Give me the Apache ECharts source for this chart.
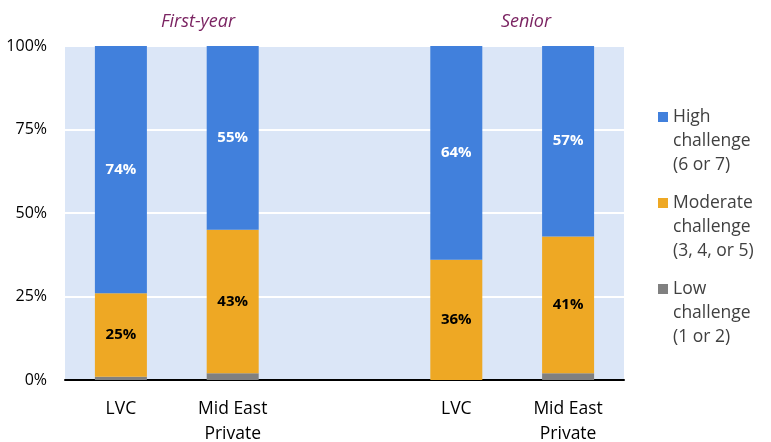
<!DOCTYPE html>
<html>
<head>
<meta charset="utf-8">
<script src="https://cdn.jsdelivr.net/npm/echarts@6/dist/echarts.min.js"></script>
<style>
  html, body { margin: 0; padding: 0; background: #fff; }
  #chart { width: 771px; height: 442px; }
</style>
</head>
<body>
<div id="chart"></div>
<script>
// categories (blank slot separates the two groups)
var categories = ['LVC', 'Mid East\nPrivate', '', 'LVC', 'Mid East\nPrivate']
var groupTitles = ['First-year', 'Senior']
var yTicks = [0, 25, 50, 75, 100]

// percent of respondents
var lowChallenge = [1, 2, null, 0, 2]
var moderateChallenge = [25, 43, null, 36, 41]
var highChallenge = [74, 55, null, 64, 57]

var seriesNames = ['High challenge (6 or 7)', 'Moderate challenge (3, 4, or 5)', 'Low challenge (1 or 2)']
// two blank lines on top so the swatch sits beside the first line
var legendLines = {
  'High challenge (6 or 7)': '\n\nHigh\nchallenge\n(6 or 7)',
  'Moderate challenge (3, 4, or 5)': '\n\nModerate\nchallenge\n(3, 4, or 5)',
  'Low challenge (1 or 2)': '\n\nLow\nchallenge\n(1 or 2)'
}

var font = 'Open Sans'
var chart = echarts.init(document.getElementById('chart'))

function barLabel(color) {
  return {
    show: true,
    position: 'inside',
    color: color,
    fontFamily: font,
    fontWeight: 'bold',
    fontSize: 15,
    formatter: function (p) { return p.value == null ? '' : p.value + '%' }
  }
}

var titleStyle = { fontFamily: font, fontStyle: 'italic', fontWeight: 'normal', fontSize: 18, color: '#7b2462' }

chart.setOption({
  animation: false,
  textStyle: { fontFamily: font },
  title: [
    { text: groupTitles[0], left: 193, top: 8, textAlign: 'center', textStyle: titleStyle },
    { text: groupTitles[1], left: 521, top: 8, textAlign: 'center', textStyle: titleStyle }
  ],
  legend: {
    orient: 'vertical',
    left: 658,
    top: 57,
    padding: 0,
    itemGap: -34,
    itemWidth: 10,
    itemHeight: 10,
    icon: 'rect',
    data: seriesNames,
    formatter: function (name) { return legendLines[name] },
    textStyle: {
      fontFamily: font,
      fontSize: 17.5,
      lineHeight: 24,
      color: '#404040'
    }
  },
  grid: {
    left: 65,
    right: 147,
    top: 46,
    bottom: 62,
    outerBoundsMode: 'none',
    containLabel: false,
    show: true,
    backgroundColor: '#dbe6f7',
    borderWidth: 0
  },
  xAxis: {
    type: 'category',
    data: categories,
    axisLine: { lineStyle: { color: '#000', width: 2 } },
    axisTick: { show: false },
    axisLabel: {
      color: '#000',
      fontFamily: font,
      fontSize: 17.5,
      lineHeight: 25,
      margin: 17,
      interval: 0
    }
  },
  yAxis: {
    type: 'value',
    min: yTicks[0],
    max: yTicks[yTicks.length - 1],
    interval: 25,
    axisLine: { show: false },
    axisTick: { show: false },
    splitLine: { lineStyle: { color: '#ffffff', width: 2 } },
    axisLabel: {
      color: '#000',
      fontFamily: font,
      fontSize: 16,
      margin: 18,
      formatter: '{value}%'
    }
  },
  series: [
    {
      name: seriesNames[2],
      type: 'bar',
      stack: 'total',
      barWidth: 52,
      data: lowChallenge,
      itemStyle: { color: '#808080' }
    },
    {
      name: seriesNames[1],
      type: 'bar',
      stack: 'total',
      barWidth: 52,
      data: moderateChallenge,
      itemStyle: { color: '#eea824' },
      label: barLabel('#000')
    },
    {
      name: seriesNames[0],
      type: 'bar',
      stack: 'total',
      barWidth: 52,
      data: highChallenge,
      itemStyle: { color: '#4180dc' },
      label: barLabel('#fff')
    }
  ]
})
</script>
</body>
</html>
